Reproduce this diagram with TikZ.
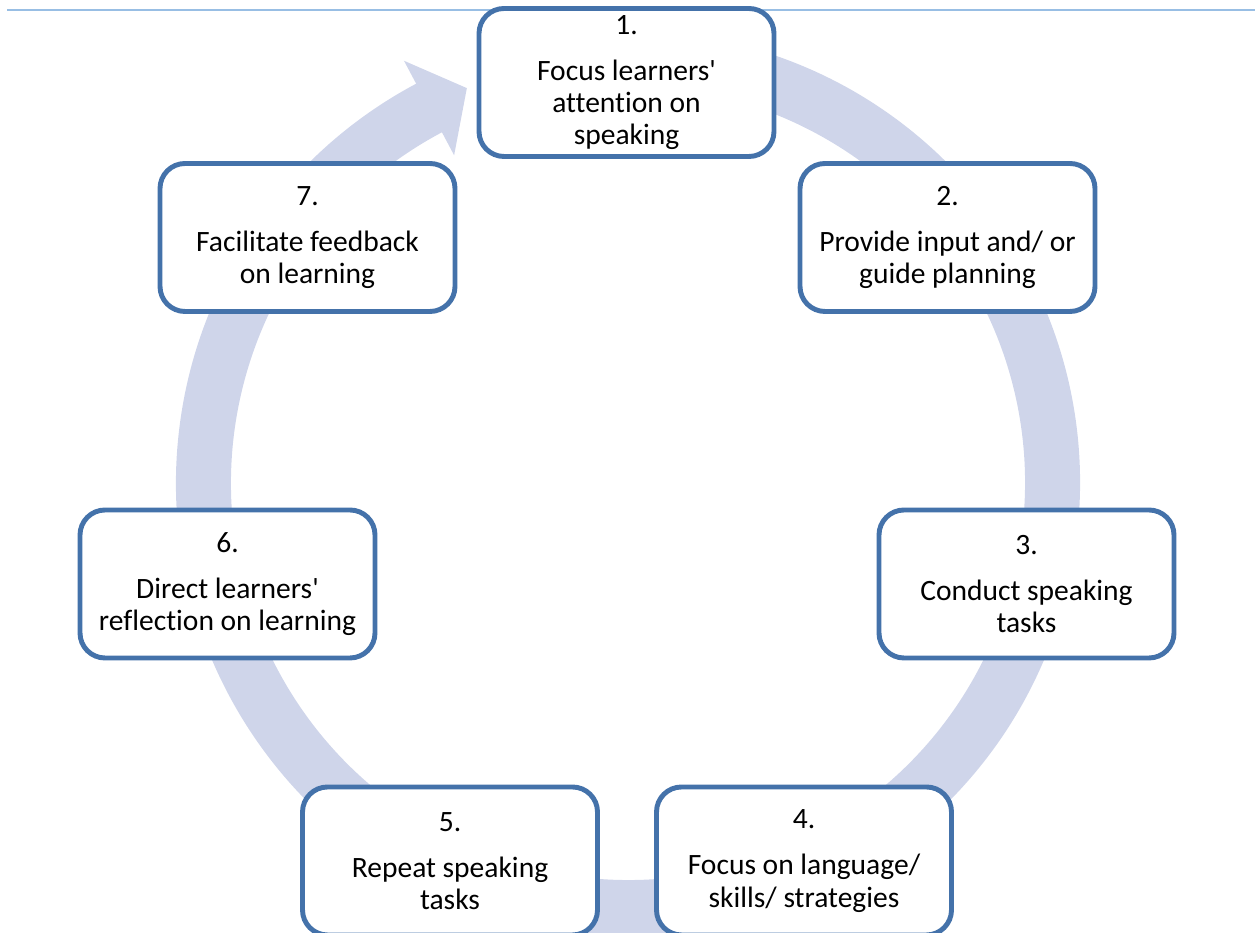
\documentclass[tikz,border=0pt]{standalone}
\usepackage{fontspec}
\setmainfont{Carlito}[Ligatures={NoCommon}]
\usepackage{xcolor}
\definecolor{cycblue}{RGB}{68, 114, 170}
\definecolor{cycring}{RGB}{207, 213, 234}
\definecolor{cycline}{RGB}{152, 190, 228}
\usetikzlibrary{positioning}

\tikzset{
    cyclebox/.style={draw=cycblue, line width=2.8pt, fill=white, rectangle, rounded corners=0.5cm,
        minimum width=5.9cm, minimum height=2.96cm, inner sep=0pt, align=center,
        font=\fontsize{16.8}{18.3}\selectfont}
}

\begin{document}
\begin{tikzpicture}
    \clip (0, 0) rectangle (25.1, 18.66);

    % Thin rule along the top
    \draw[cycline, line width=1.3pt] (0.15, 18.46) -- (25.1, 18.46);

    % Circular arrow behind the steps
    \begin{scope}[shift={(12.56, 9)}]
        \fill[cycring] (80:9.04) arc[start angle=80, end angle=-242.05, radius=9.04]
            -- (117.95:9.56) -- (112.2:8.53) -- (117.95:7.42) -- (117.95:7.94)
            arc[start angle=-242.05, end angle=80, radius=7.94] -- cycle;
    \end{scope}

    % Steps of the cycle
    \node[cyclebox] (focus) at (12.53, 17.01) {1.\\[8pt] Focus learners\textquotesingle\\ attention on\\ speaking};
    \node[cyclebox] (input) at (18.95, 13.91) {2.\\[8pt] Provide input and/ or\\ guide planning};
    \node[cyclebox] (conduct) at (20.53, 6.98) {3.\\[8pt] Conduct speaking\\ tasks};
    \node[cyclebox] (language) at (16.08, 1.44) {4.\\[8pt] Focus on language/\\ skills/ strategies};
    \node[cyclebox] (repeat) at (9.0, 1.44) {5.\\[8pt] Repeat speaking\\ tasks};
    \node[cyclebox] (reflect) at (4.55, 6.98) {6.\\[8pt] Direct learners\textquotesingle\\ reflection on learning};
    \node[cyclebox] (feedback) at (6.15, 13.91) {7.\\[8pt] Facilitate feedback\\ on learning};
\end{tikzpicture}
\end{document}
